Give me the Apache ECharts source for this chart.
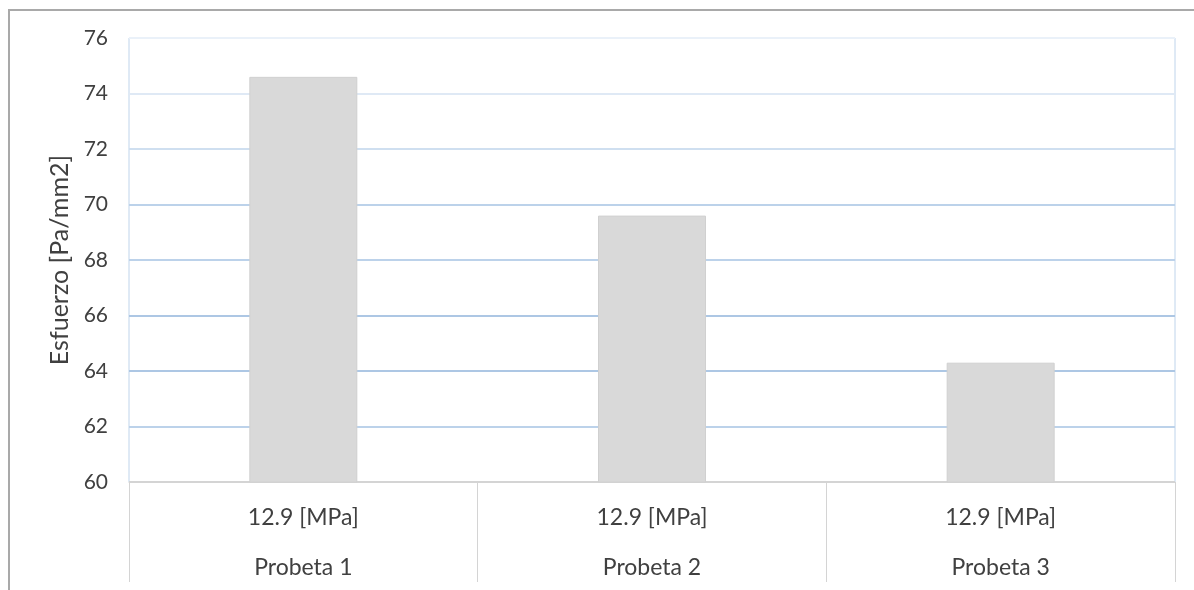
<!DOCTYPE html>
<html>
<head>
<meta charset="utf-8">
<script src="https://cdn.jsdelivr.net/npm/echarts@6/dist/echarts.min.js"></script>
<style>
  html, body { margin: 0; padding: 0; background: #ffffff; }
  #frame { position: absolute; left: 8px; top: 9px; width: 1186px; height: 581px;
           border-top: 2px solid #a9a9a9; border-left: 2px solid #a9a9a9; box-sizing: border-box; }
  #chart { position: absolute; left: 0; top: 0; width: 1194px; height: 590px; }
</style>
</head>
<body>
<div id="frame"></div>
<div id="chart"></div>
<script>
// Data
var specimens = ['Probeta 1', 'Probeta 2', 'Probeta 3'];
var pressures = ['12.9 [MPa]', '12.9 [MPa]', '12.9 [MPa]'];
var stress = [74.6, 69.6, 64.3];
var yTicks = { min: 60, max: 76, interval: 2 };
var yTitle = 'Esfuerzo [Pa/mm2]';

var FONT = 'Lato, "Open Sans", sans-serif';
var chart = echarts.init(document.getElementById('chart'), null, { renderer: 'canvas' });
chart.setOption({
  backgroundColor: 'transparent',
  animation: false,
  grid: {
    left: 129, right: 19, top: 38, bottom: 108,
    show: true, borderColor: '#bfd4eb', borderWidth: 1, backgroundColor: 'transparent'
  },
  xAxis: [
    {
      type: 'category',
      data: pressures,
      position: 'bottom',
      axisLine: { show: true, lineStyle: { color: '#d4d4d4', width: 1 } },
      axisTick: { show: true, length: 100, lineStyle: { color: '#d4d4d4', width: 1 } },
      axisLabel: { margin: 24, fontSize: 23, color: '#404040', fontFamily: FONT },
      splitLine: { show: false }
    },
    {
      type: 'category',
      data: specimens,
      position: 'bottom',
      offset: 50,
      axisLine: { show: false },
      axisTick: { show: false },
      axisLabel: { margin: 24, fontSize: 23, color: '#404040', fontFamily: FONT },
      splitLine: { show: false }
    }
  ],
  yAxis: {
    type: 'value',
    min: yTicks.min, max: yTicks.max, interval: yTicks.interval,
    name: yTitle,
    nameLocation: 'middle',
    nameGap: 52,
    nameTextStyle: { fontSize: 25, color: '#404040', fontFamily: FONT },
    axisLine: { show: false },
    axisTick: { show: false },
    axisLabel: { margin: 21, fontSize: 21, color: '#404040', fontFamily: FONT },
    splitLine: { show: true, lineStyle: { color: ['#d4d4d4', '#bcd2ea', '#adc7e4', '#adc7e4', '#bcd2ea', '#bcd2ea', '#cfdff0', '#dfe9f5', '#eaf1f9'], width: 2 } }
  },
  series: [{
    type: 'bar',
    xAxisIndex: 0,
    data: stress,
    barWidth: 108,
    itemStyle: { color: '#d9d9d9', borderColor: '#d0d0d0', borderWidth: 1 },
    z: 3
  }]
});
</script>
</body>
</html>
